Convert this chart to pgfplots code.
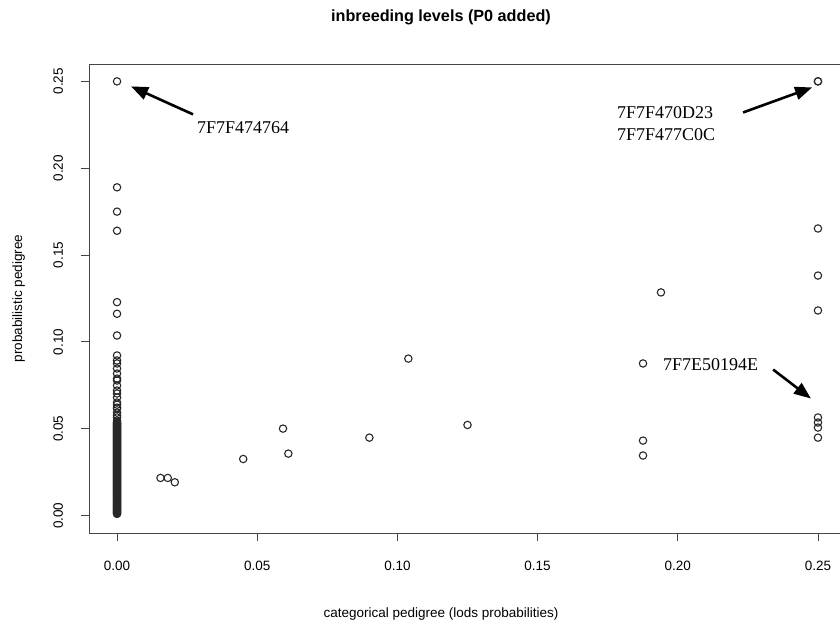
\documentclass[border=0pt]{standalone}
\usepackage{fontspec}
\setmainfont{Liberation Serif}
\setsansfont{Liberation Sans}
\usepackage{pgfplots}
\pgfplotsset{compat=1.18}
\usetikzlibrary{arrows.meta}

\definecolor{boxgray}{RGB}{70,70,70}
\definecolor{ptgray}{RGB}{40,40,40}

\begin{document}
\begin{tikzpicture}
\useasboundingbox (0pt,0pt) rectangle (840pt,620pt);
\begin{axis}[
    at={(89pt,87pt)}, anchor=south west,
    scale only axis, width=757pt, height=469pt,
    xmin=-0.01, xmax=0.26, ymin=-0.01, ymax=0.26,
    xtick={0,0.05,0.1,0.15,0.2,0.25},
    ytick={0,0.05,0.1,0.15,0.2,0.25},
    xtick pos=left, ytick pos=left,
    tick align=outside, major tick length=8pt,
    tick style={boxgray, line width=0.9pt},
    axis line style={boxgray, line width=0.9pt},
    /pgf/number format/assume math mode=true,
    ticklabel style={font=\sffamily\fontsize{13.5}{16}\selectfont,
        /pgf/number format/fixed, /pgf/number format/fixed zerofill,
        /pgf/number format/precision=2},
    xticklabel style={anchor=base, inner sep=0pt, yshift=-30pt},
    yticklabel style={xshift=-18pt, rotate=90, anchor=base, inner sep=0pt},
    title={inbreeding levels (P0 added)},
    title style={at={(axis description cs:0.465,1)}, anchor=base, yshift=36.5pt,
        inner sep=0pt, font=\sffamily\bfseries\fontsize{16.2}{19}\selectfont},
    xlabel={categorical pedigree (lods probabilities)},
    xlabel style={at={(axis description cs:0.465,0)}, anchor=base, yshift=-85pt,
        inner sep=0pt, font=\sffamily\fontsize{13.5}{16}\selectfont},
    ylabel={probabilistic pedigree},
    ylabel style={at={(axis description cs:-0.0885,0.5)}, anchor=base,
        inner sep=0pt, font=\sffamily\fontsize{13.5}{16}\selectfont},
]
% column at x = 0, sparse upper part
\addplot[only marks, mark=o, mark size=3.7pt, mark options={line width=1.1pt, draw=ptgray}]
coordinates {
(0,0.2500) (0,0.1890) (0,0.1750) (0,0.1640) (0,0.1229) (0,0.1162) (0,0.1037)
(0,0.0922) (0,0.0893) (0,0.0876) (0,0.0847) (0,0.0818) (0,0.0789) (0,0.0778)
(0,0.0749) (0,0.0720) (0,0.0703) (0,0.0680) (0,0.0651) (0,0.0639) (0,0.0622)
(0,0.0616) (0,0.0593) (0,0.0576) (0,0.0565) (0,0.0547)
};
% column at x = 0, dense lower part
\addplot[only marks, mark=o, mark size=3.7pt, mark options={line width=1.1pt, draw=ptgray}]
coordinates {
(0,0.0010) (0,0.0014) (0,0.0018) (0,0.0022) (0,0.0026) (0,0.0030) (0,0.0034) (0,0.0038) (0,0.0042) (0,0.0046)
(0,0.0050) (0,0.0054) (0,0.0058) (0,0.0062) (0,0.0066) (0,0.0070) (0,0.0074) (0,0.0078) (0,0.0082) (0,0.0086)
(0,0.0090) (0,0.0094) (0,0.0098) (0,0.0102) (0,0.0106) (0,0.0110) (0,0.0114) (0,0.0118) (0,0.0122) (0,0.0126)
(0,0.0130) (0,0.0134) (0,0.0138) (0,0.0142) (0,0.0146) (0,0.0150) (0,0.0154) (0,0.0158) (0,0.0162) (0,0.0166)
(0,0.0170) (0,0.0174) (0,0.0178) (0,0.0182) (0,0.0186) (0,0.0190) (0,0.0194) (0,0.0198) (0,0.0202) (0,0.0206)
(0,0.0210) (0,0.0214) (0,0.0218) (0,0.0222) (0,0.0226) (0,0.0230) (0,0.0234) (0,0.0238) (0,0.0242) (0,0.0246)
(0,0.0250) (0,0.0254) (0,0.0258) (0,0.0262) (0,0.0266) (0,0.0270) (0,0.0274) (0,0.0278) (0,0.0282) (0,0.0286)
(0,0.0290) (0,0.0294) (0,0.0298) (0,0.0302) (0,0.0306) (0,0.0310) (0,0.0314) (0,0.0318) (0,0.0322) (0,0.0326)
(0,0.0330) (0,0.0334) (0,0.0338) (0,0.0342) (0,0.0346) (0,0.0350) (0,0.0354) (0,0.0358) (0,0.0362) (0,0.0366)
(0,0.0370) (0,0.0374) (0,0.0378) (0,0.0382) (0,0.0386) (0,0.0390) (0,0.0394) (0,0.0398) (0,0.0402) (0,0.0406)
(0,0.0410) (0,0.0414) (0,0.0418) (0,0.0422) (0,0.0426) (0,0.0430) (0,0.0434) (0,0.0438) (0,0.0442) (0,0.0446)
(0,0.0450) (0,0.0454) (0,0.0458) (0,0.0462) (0,0.0466) (0,0.0470) (0,0.0474) (0,0.0478) (0,0.0482) (0,0.0486)
(0,0.0490) (0,0.0494) (0,0.0498) (0,0.0502) (0,0.0506) (0,0.0510) (0,0.0514) (0,0.0518) (0,0.0522) (0,0.0526)
(0,0.0530) (0,0.0534) (0,0.0538)
};
% middle points
\addplot[only marks, mark=o, mark size=3.7pt, mark options={line width=1.1pt, draw=ptgray}]
coordinates {
(0.0155,0.0217) (0.0181,0.0217) (0.0206,0.0192) (0.0450,0.0326)
(0.0592,0.0501) (0.0611,0.0357) (0.0900,0.0449) (0.1039,0.0904)
(0.1250,0.0522) (0.1876,0.0876) (0.1876,0.0432) (0.1876,0.0346)
(0.1940,0.1285)
};
% column at x = 0.25
\addplot[only marks, mark=o, mark size=3.7pt, mark options={line width=1.1pt, draw=ptgray}]
coordinates {
(0.25,0.2500) (0.25,0.2500) (0.25,0.1653) (0.25,0.1382) (0.25,0.1181)
(0.25,0.0565) (0.25,0.0536) (0.25,0.0507) (0.25,0.0449)
};
% annotations
\draw[line width=2.6pt, -{Triangle[length=17pt,width=13pt]}]
    (axis cs:0.0271,0.2310) -- (axis cs:0.0050,0.2471);
\draw[line width=2.6pt, -{Triangle[length=17pt,width=13pt]}]
    (axis cs:0.2233,0.2321) -- (axis cs:0.2479,0.2465);
\draw[line width=2.6pt, -{Triangle[length=17pt,width=13pt]}]
    (axis cs:0.2340,0.0841) -- (axis cs:0.2475,0.0674);
\node[anchor=west, inner sep=0pt, font=\fontsize{18}{21}\selectfont]
    at (axis cs:0.0285,0.2235) {7F7F474764};
\node[anchor=west, inner sep=0pt, font=\fontsize{18}{21}\selectfont]
    at (axis cs:0.1783,0.2321) {7F7F470D23};
\node[anchor=west, inner sep=0pt, font=\fontsize{18}{21}\selectfont]
    at (axis cs:0.1783,0.2195) {7F7F477C0C};
\node[anchor=west, inner sep=0pt, font=\fontsize{18}{21}\selectfont]
    at (axis cs:0.1947,0.0870) {7F7E50194E};
\end{axis}
\end{tikzpicture}
\end{document}
